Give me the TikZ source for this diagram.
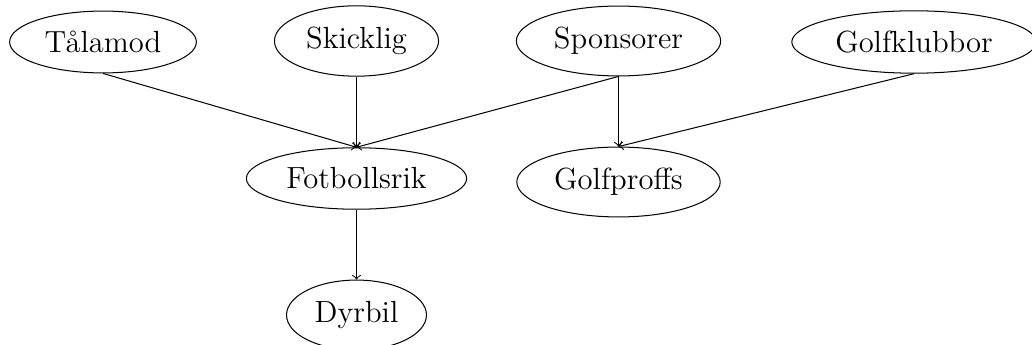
\documentclass[tikz,border=0pt]{standalone}
\usetikzlibrary{shapes.geometric}
\begin{document}
\begin{tikzpicture}[x=0.39216pt,y=-0.39216pt,
  ell/.style={draw,ellipse,inner xsep=3pt,inner ysep=4.3pt,line width=0.4pt,font=\fontsize{12}{14}\selectfont},
  edge/.style={->,line width=0.4pt}]
\useasboundingbox (0,0) rectangle (1032,345);
\node[ell] (tal) at (103,42) {Tålamod};
\node[ell] (ski) at (356.5,41) {Skicklig};
\node[ell] (spo) at (618.5,41) {Sponsorer};
\node[ell] (gk) at (914,42) {Golfklubbor};
\node[ell] (fot) at (356.5,178.5) {Fotbollsrik};
\node[ell] (gp) at (618.5,182) {Golfproffs};
\node[ell] (dyr) at (356.5,315) {Dyrbil};
\draw[edge] (tal.south) -- (fot.north);
\draw[edge] (ski.south) -- (fot.north);
\draw[edge] (spo.south) -- (fot.north);
\draw[edge] (spo.south) -- (gp.north);
\draw[edge] (gk.south) -- (gp.north);
\draw[edge] (fot.south) -- (dyr.north);
\end{tikzpicture}
\end{document}
